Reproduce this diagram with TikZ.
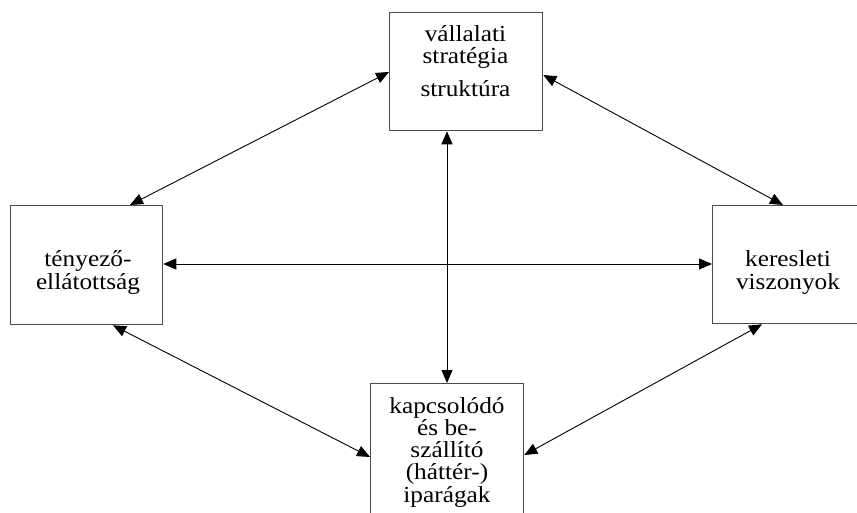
\documentclass[tikz,border=0pt]{standalone}
\usepackage{fontspec}
\setmainfont{Liberation Serif}[FakeStretch=1.1]
\usetikzlibrary{arrows.meta,calc}
\begin{document}
\begin{tikzpicture}[x=1pt,y=-1pt,
  box/.style={draw=black!70,line width=1.3pt,rectangle,inner sep=0pt,anchor=north west},
  lbl/.style={anchor=base,inner sep=0pt,text height=15pt,text depth=4pt,font=\fontsize{23}{23}\selectfont},
  link/.style={line width=0.9pt,{Triangle[length=13pt,width=11pt]}-{Triangle[length=13pt,width=11pt]}}]
\useasboundingbox (0,0) rectangle (857,513);
\clip (0,0) rectangle (857,513);
\fill[white] (0,0) rectangle (857,513);
\node[box,minimum width=153pt,minimum height=118pt] (top) at (389,12) {};
\node[box,minimum width=152pt,minimum height=119pt] (left) at (10,205) {};
\node[box,minimum width=153pt,minimum height=118pt] (right) at (712,205) {};
\node[box,minimum width=153pt,minimum height=150pt] (bottom) at (370,383) {};
\node[lbl] (t1) at (465.5,42) {vállalati};
\node[lbl] (t2) at (465.5,64) {stratégia};
\node[lbl] (t3) at (465.5,97) {struktúra};
\node[lbl] (l1) at (88,267) {tényező-};
\node[lbl] (l2) at (88,289) {ellátottság};
\node[lbl] (r1) at (788,267) {keresleti};
\node[lbl] (r2) at (788,290) {viszonyok};
\node[lbl] (b1) at (447,413) {kapcsolódó};
\node[lbl] (b2) at (447,435) {és be-};
\node[lbl] (b3) at (447,457) {szállító};
\node[lbl] (b4) at (447,479.5) {(háttér-)};
\node[lbl] (b5) at (447,502) {iparágak};
\draw[link] ($(top.north west)+(0,60)$) -- ($(left.north west)+(120,0)$);
\draw[link] ($(top.north east)+(0,63)$) -- ($(right.north west)+(71,0)$);
\draw[link] ($(top.south west)+(58,0)$) -- ($(bottom.north west)+(77,0)$);
\draw[link] ($(left.north east)+(0,59)$) -- ($(right.north west)+(0,59)$);
\draw[link] ($(left.south west)+(103,0)$) -- ($(bottom.north west)+(0,74)$);
\draw[link] ($(right.south west)+(50,0)$) -- ($(bottom.north east)+(0,72)$);
\end{tikzpicture}
\end{document}
